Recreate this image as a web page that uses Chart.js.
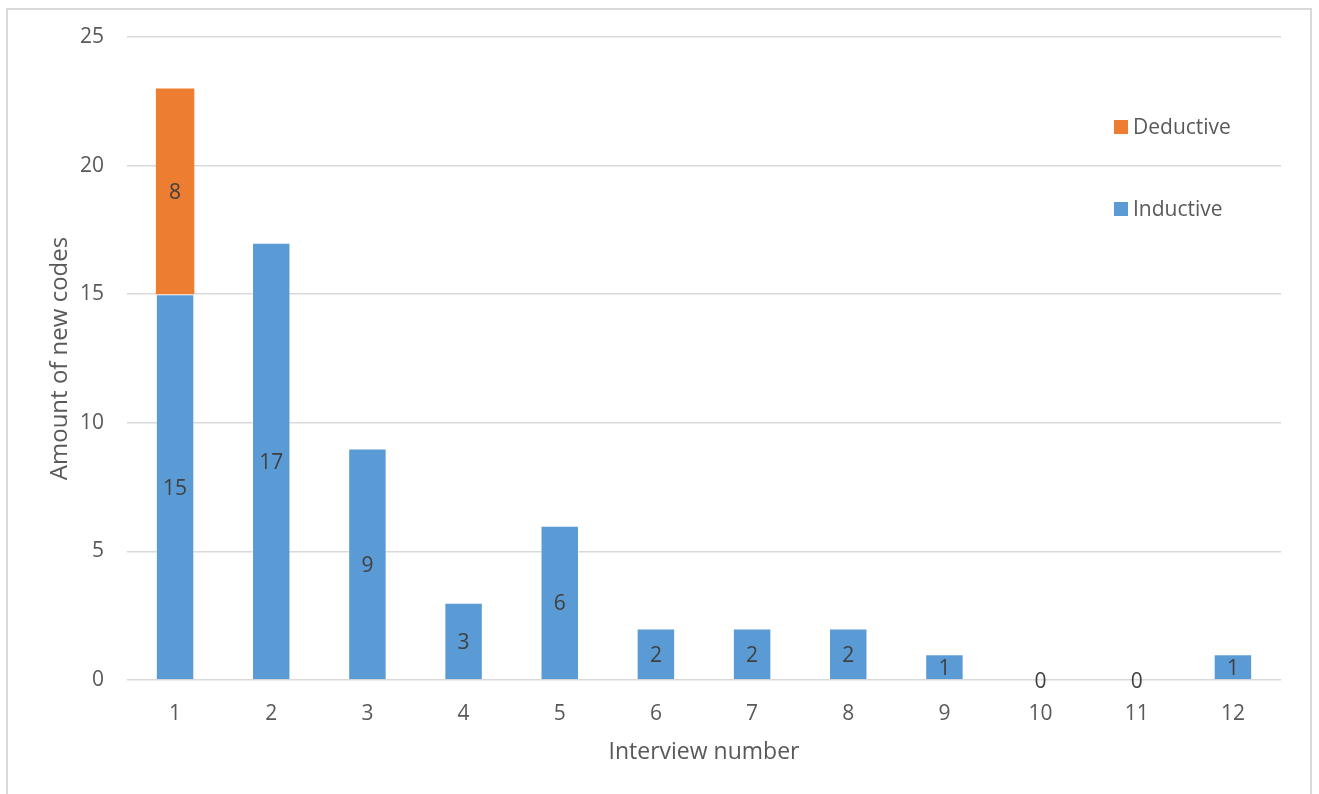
<!DOCTYPE html>
<html>
<head>
<meta charset="utf-8">
<script src="https://cdn.jsdelivr.net/npm/chart.js@4"></script>
<style>
    html, body { margin: 0; padding: 0; background: #fff; overflow: hidden; }
    #wrap { position: relative; width: 1319px; height: 794px; }
    #frame {
        position: absolute; left: 6px; top: 8px; width: 1306px; height: 820px;
        border: 2px solid #d9d9d9; box-sizing: border-box;
    }
    canvas { position: absolute; left: 0; top: 0; }
</style>
</head>
<body>
<div id="wrap">
    <div id="frame"></div>
    <canvas id="chart" width="1319" height="794"></canvas>
</div>
<script>
// данные
const interviews = ['1', '2', '3', '4', '5', '6', '7', '8', '9', '10', '11', '12'];
const inductive = [15, 17, 9, 3, 6, 2, 2, 2, 1, 0, 0, 1];
const deductive = [8, null, null, null, null, null, null, null, null, null, null, null];
const yTicks = [0, 5, 10, 15, 20, 25];

const FONT = '"Open Sans", sans-serif';
const TEXT = '#595959';

// подписи значений в центре столбцов
const barLabels = {
    id: 'barLabels',
    afterDatasetsDraw(chart) {
        const ctx = chart.ctx;
        ctx.save();
        ctx.font = '21px ' + FONT;
        ctx.fillStyle = '#404040';
        ctx.textAlign = 'center';
        ctx.textBaseline = 'middle';
        chart.data.datasets.forEach((ds, i) => {
            const meta = chart.getDatasetMeta(i);
            meta.data.forEach((bar, j) => {
                const v = ds.data[j];
                if (v === null || v === undefined) return;
                ctx.fillText(String(v), bar.x, (bar.y + bar.base) / 2 + 2);
            });
        });
        ctx.restore();
    }
};

// легенда внутри области графика
const insideLegend = {
    id: 'insideLegend',
    afterDraw(chart) {
        const ctx = chart.ctx;
        const area = chart.chartArea;
        const items = chart.data.datasets.slice().reverse();
        ctx.save();
        ctx.font = '21px ' + FONT;
        ctx.textBaseline = 'middle';
        ctx.textAlign = 'left';
        items.forEach((ds, k) => {
            const x = area.right - 167;
            const y = area.top + 90 + k * 82;
            ctx.fillStyle = ds.backgroundColor;
            ctx.fillRect(x, y - 7, 14, 14);
            ctx.fillStyle = TEXT;
            ctx.fillText(ds.label, x + 19, y + 1);
        });
        ctx.restore();
    }
};

document.addEventListener('DOMContentLoaded', function() {
    const ctx = document.getElementById('chart').getContext('2d');

    new Chart(ctx, {
        type: 'bar',
        data: {
            labels: interviews,
            datasets: [{
                label: 'Inductive',
                data: inductive,
                backgroundColor: '#5B9BD5',
                borderColor: 'rgba(255,255,255,0.35)',
                borderWidth: 1,
                barPercentage: 0.4,
                categoryPercentage: 1
            }, {
                label: 'Deductive',
                data: deductive,
                backgroundColor: '#ED7D31',
                borderWidth: 0,
                barPercentage: 0.4,
                categoryPercentage: 1
            }]
        },
        options: {
            responsive: false,
            animation: false,
            layout: {
                padding: { left: 0, right: 38, top: 37, bottom: 0 }
            },
            plugins: {
                legend: { display: false },
                tooltip: { enabled: false }
            },
            scales: {
                x: {
                    stacked: true,
                    grid: { display: false },
                    border: { display: false },
                    ticks: {
                        color: TEXT,
                        font: { family: FONT, size: 21 },
                        padding: 13
                    },
                    title: {
                        display: true,
                        text: 'Interview number',
                        color: TEXT,
                        font: { family: FONT, size: 23 },
                        padding: { top: 0, bottom: 28 }
                    },
                    afterFit(scale) { scale.height = 114; }
                },
                y: {
                    stacked: true,
                    min: 0,
                    max: 25,
                    afterBuildTicks(scale) {
                        scale.ticks = yTicks.map(v => ({ value: v }));
                    },
                    grid: {
                        color: '#d9d9d9',
                        lineWidth: 1.5,
                        drawTicks: false
                    },
                    border: { display: false },
                    ticks: {
                        color: TEXT,
                        font: { family: FONT, size: 21 },
                        padding: 23
                    },
                    title: {
                        display: true,
                        text: 'Amount of new codes',
                        color: TEXT,
                        font: { family: FONT, size: 24 },
                        padding: { top: 46, bottom: 0 }
                    },
                    afterFit(scale) { scale.width = 127; }
                }
            }
        },
        plugins: [barLabels, insideLegend]
    });
});
</script>
</body>
</html>
